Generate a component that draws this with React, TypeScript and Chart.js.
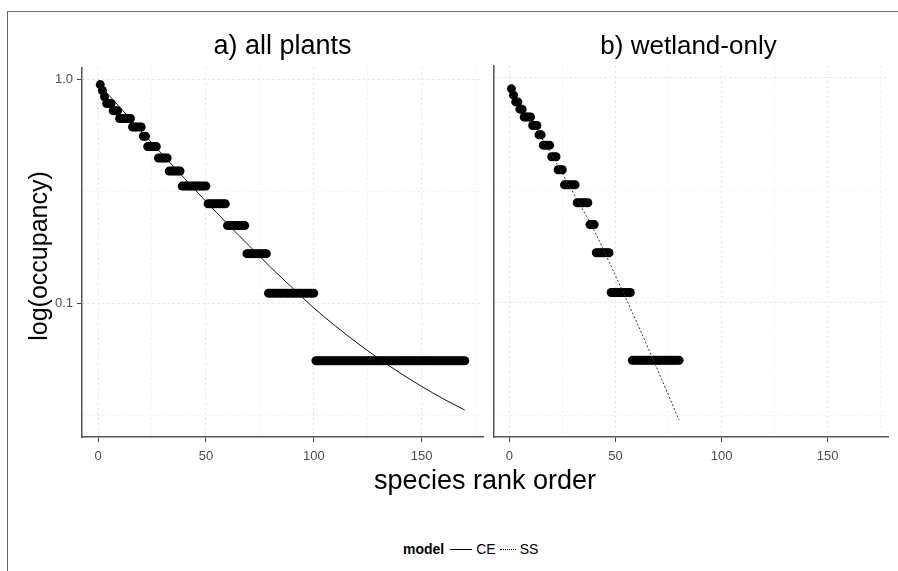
import React, { useEffect, useRef } from "react";
import { Chart, registerables } from "chart.js";

Chart.register(...registerables);

// ---------- data ----------
const SITES = 18;

// a) all plants: number of occupied sites (out of 18) per species, by rank 1..170
const allPlantsCounts = [
  17, 16, 15, 14, 14, 14, 13, 13, 13, 12,
  12, 12, 12, 12, 12, 11, 11, 11, 11, 11,
  10, 10, 9, 9, 9, 9, 9, 8, 8, 8,
  8, 8, 7, 7, 7, 7, 7, 7, 6, 6,
  6, 6, 6, 6, 6, 6, 6, 6, 6, 6,
  5, 5, 5, 5, 5, 5, 5, 5, 5, 4,
  4, 4, 4, 4, 4, 4, 4, 4, 3, 3,
  3, 3, 3, 3, 3, 3, 3, 3, 2, 2,
  2, 2, 2, 2, 2, 2, 2, 2, 2, 2,
  2, 2, 2, 2, 2, 2, 2, 2, 2, 2,
  1, 1, 1, 1, 1, 1, 1, 1, 1, 1,
  1, 1, 1, 1, 1, 1, 1, 1, 1, 1,
  1, 1, 1, 1, 1, 1, 1, 1, 1, 1,
  1, 1, 1, 1, 1, 1, 1, 1, 1, 1,
  1, 1, 1, 1, 1, 1, 1, 1, 1, 1,
  1, 1, 1, 1, 1, 1, 1, 1, 1, 1,
  1, 1, 1, 1, 1, 1, 1, 1, 1, 1,
];

// b) wetland-only: by rank 1..80
const wetlandCounts = [
  16, 15, 14, 14, 13, 13, 12, 12, 12, 12,
  11, 11, 11, 10, 10, 9, 9, 9, 9, 8,
  8, 8, 7, 7, 7, 6, 6, 6, 6, 6,
  6, 5, 5, 5, 5, 5, 5, 4, 4, 4,
  3, 3, 3, 3, 3, 3, 3, 2, 2, 2,
  2, 2, 2, 2, 2, 2, 2, 1, 1, 1,
  1, 1, 1, 1, 1, 1, 1, 1, 1, 1,
  1, 1, 1, 1, 1, 1, 1, 1, 1, 1,
];

// fitted model curves
const ceRanks = [1, 10, 20, 30, 40, 50, 60, 70, 80, 90, 100, 110, 120, 130, 140, 150, 160, 170];
const ceValues = [0.933, 0.75, 0.586, 0.459, 0.361, 0.285, 0.226, 0.181, 0.145, 0.1175, 0.0955, 0.0794, 0.0668, 0.0569, 0.049, 0.0427, 0.0376, 0.0335];

const ssRanks = [1, 10, 20, 30, 40, 50, 60, 70, 80];
const ssValues = [0.902, 0.653, 0.452, 0.309, 0.209, 0.132, 0.0822, 0.0501, 0.0302];

// axes
const X_MIN = -7.45;
const X_MAX = 178.45;
const xTickValues = [0, 25, 50, 75, 100, 125, 150, 175];
const xTickLabels = ["0", "", "50", "", "100", "", "150", ""];
const Y_MIN = 0.0254;
const Y_MAX = 1.122;
const yTickValues = [0.0316, 0.1, 0.316, 1.0];
const yTickLabels = ["", "0.1", "", "1.0"];

const panelTitles = ["a) all plants", "b) wetland-only"];
const xTitle = "species rank order";
const yTitle = "log(occupancy)";
const legendTitle = "model";
const legendItems = ["CE", "SS"];

const FONT = "'Liberation Sans', Arial, Helvetica, sans-serif";

function makeOptions(first: boolean): any {
  const isMajorX = (v: number) => xTickLabels[xTickValues.indexOf(v)] !== "";
  const isMajorY = (v: number) => {
    const i = yTickValues.indexOf(v);
    return i >= 0 && yTickLabels[i] !== "";
  };
  return {
    animation: false,
    responsive: false,
    maintainAspectRatio: false,
    devicePixelRatio: 1,
    events: [],
    layout: { padding: { top: 10, right: 5, left: 0, bottom: 0 } },
    plugins: {
      legend: { display: false },
      tooltip: { enabled: false },
      title: { display: false },
    },
    scales: {
      x: {
        type: "linear",
        min: X_MIN,
        max: X_MAX,
        afterBuildTicks: (s: any) => {
          s.ticks = xTickValues.map((v) => ({ value: v }));
        },
        afterFit: (s: any) => {
          s.height = 29;
        },
        ticks: {
          autoSkip: false,
          maxRotation: 0,
          padding: 7,
          color: "#4d4d4d",
          font: { family: FONT, size: 13 },
          callback: (v: number) => {
            const i = xTickValues.indexOf(v);
            return i >= 0 ? xTickLabels[i] : "";
          },
        },
        grid: {
          color: (c: any) => (c.tick && isMajorX(c.tick.value) ? "#e3e3e3" : "#f0f0f0"),
          lineWidth: 1,
          tickLength: 5,
          tickColor: (c: any) => (c.tick && isMajorX(c.tick.value) ? "#444" : "rgba(0,0,0,0)"),
        },
        border: { display: true, color: "#555", width: 1.5, dash: [2, 3] },
      },
      y: {
        type: "logarithmic",
        min: Y_MIN,
        max: Y_MAX,
        afterBuildTicks: (s: any) => {
          s.ticks = yTickValues.map((v) => ({ value: v }));
        },
        afterFit: (s: any) => {
          s.width = first ? 40 : 0;
        },
        ticks: {
          display: first,
          autoSkip: false,
          padding: 4,
          color: "#4d4d4d",
          font: { family: FONT, size: 13 },
          callback: (v: number) => {
            const i = yTickValues.indexOf(v);
            return i >= 0 ? yTickLabels[i] : "";
          },
        },
        grid: {
          color: (c: any) => (c.tick && isMajorY(c.tick.value) ? "#e3e3e3" : "#f0f0f0"),
          lineWidth: 1,
          tickLength: 5,
          drawTicks: first,
          tickColor: (c: any) => (c.tick && isMajorY(c.tick.value) ? "#444" : "rgba(0,0,0,0)"),
        },
        border: { display: true, color: "#555", width: 1.5, dash: [2, 3] },
      },
    },
  };
}

function pointsFrom(counts: number[]) {
  return counts.map((c, i) => ({ x: i + 1, y: c / SITES }));
}

function curveFrom(xs: number[], ys: number[]) {
  return xs.map((x, i) => ({ x, y: ys[i] }));
}

function Panel(props: { first: boolean; left: number; width: number }) {
  const ref = useRef<HTMLCanvasElement | null>(null);
  useEffect(() => {
    if (!ref.current) return;
    const first = props.first;
    const pts = pointsFrom(first ? allPlantsCounts : wetlandCounts);
    const curve = first ? curveFrom(ceRanks, ceValues) : curveFrom(ssRanks, ssValues);
    const chart = new Chart(ref.current, {
      type: "scatter",
      data: {
        datasets: [
          {
            label: first ? "CE" : "SS",
            data: curve,
            showLine: true,
            pointRadius: 0,
            borderColor: first ? "#111" : "#333",
            borderWidth: 1,
            borderDash: first ? [] : [2, 2],
            cubicInterpolationMode: "monotone",
            order: 0,
          } as any,
          {
            label: "observed",
            data: pts,
            pointRadius: 4.5,
            pointBackgroundColor: "#000",
            pointBorderWidth: 0,
            borderColor: "#000",
            showLine: false,
            order: 1,
          } as any,
        ],
      },
      options: makeOptions(first),
    });
    return () => chart.destroy();
  }, []);
  return (
    <canvas
      ref={ref}
      width={props.width}
      height={410}
      style={{ position: "absolute", left: props.left, top: 56, width: props.width, height: 410 }}
    />
  );
}

export default function App() {
  const text: React.CSSProperties = {
    position: "absolute",
    fontFamily: FONT,
    color: "#000",
    whiteSpace: "nowrap",
  };
  return (
    <div
      style={{
        position: "fixed",
        left: 0,
        top: 0,
        width: 898,
        height: 571,
        background: "#fff",
        overflow: "hidden",
      }}
    >
      <div
        style={{
          position: "absolute",
          left: 7,
          top: 11,
          width: 900,
          height: 570,
          borderTop: "1px solid #666",
          borderLeft: "1px solid #666",
        }}
      />
      <Panel first={true} left={42} width={446} />
      <Panel first={false} left={489} width={404} />
      <div style={{ ...text, left: 82, width: 401, top: 30, fontSize: 27, lineHeight: "30px", textAlign: "center" }}>
        {panelTitles[0]}
      </div>
      <div style={{ ...text, left: 489, width: 399, top: 30, fontSize: 26, lineHeight: "30px", textAlign: "center" }}>
        {panelTitles[1]}
      </div>
      <div style={{ ...text, left: 82, width: 806, top: 465, fontSize: 27, lineHeight: "30px", textAlign: "center" }}>
        {xTitle}
      </div>
      <div
        style={{
          ...text,
          left: 38 - 150,
          top: 256 - 15,
          width: 300,
          fontSize: 25,
          lineHeight: "30px",
          textAlign: "center",
          transform: "rotate(-90deg)",
        }}
      >
        {yTitle}
      </div>
      <div
        style={{
          ...text,
          left: 403,
          top: 540,
          height: 18,
          display: "flex",
          alignItems: "center",
          fontSize: 14,
        }}
      >
        <span style={{ fontWeight: "bold", marginRight: 6 }}>{legendTitle}</span>
        <span style={{ display: "inline-block", width: 22, borderTop: "1px solid #000", marginRight: 4 }} />
        <span style={{ marginRight: 4 }}>{legendItems[0]}</span>
        <span style={{ display: "inline-block", width: 16, borderTop: "1px dotted #000", marginRight: 4 }} />
        <span>{legendItems[1]}</span>
      </div>
    </div>
  );
}
